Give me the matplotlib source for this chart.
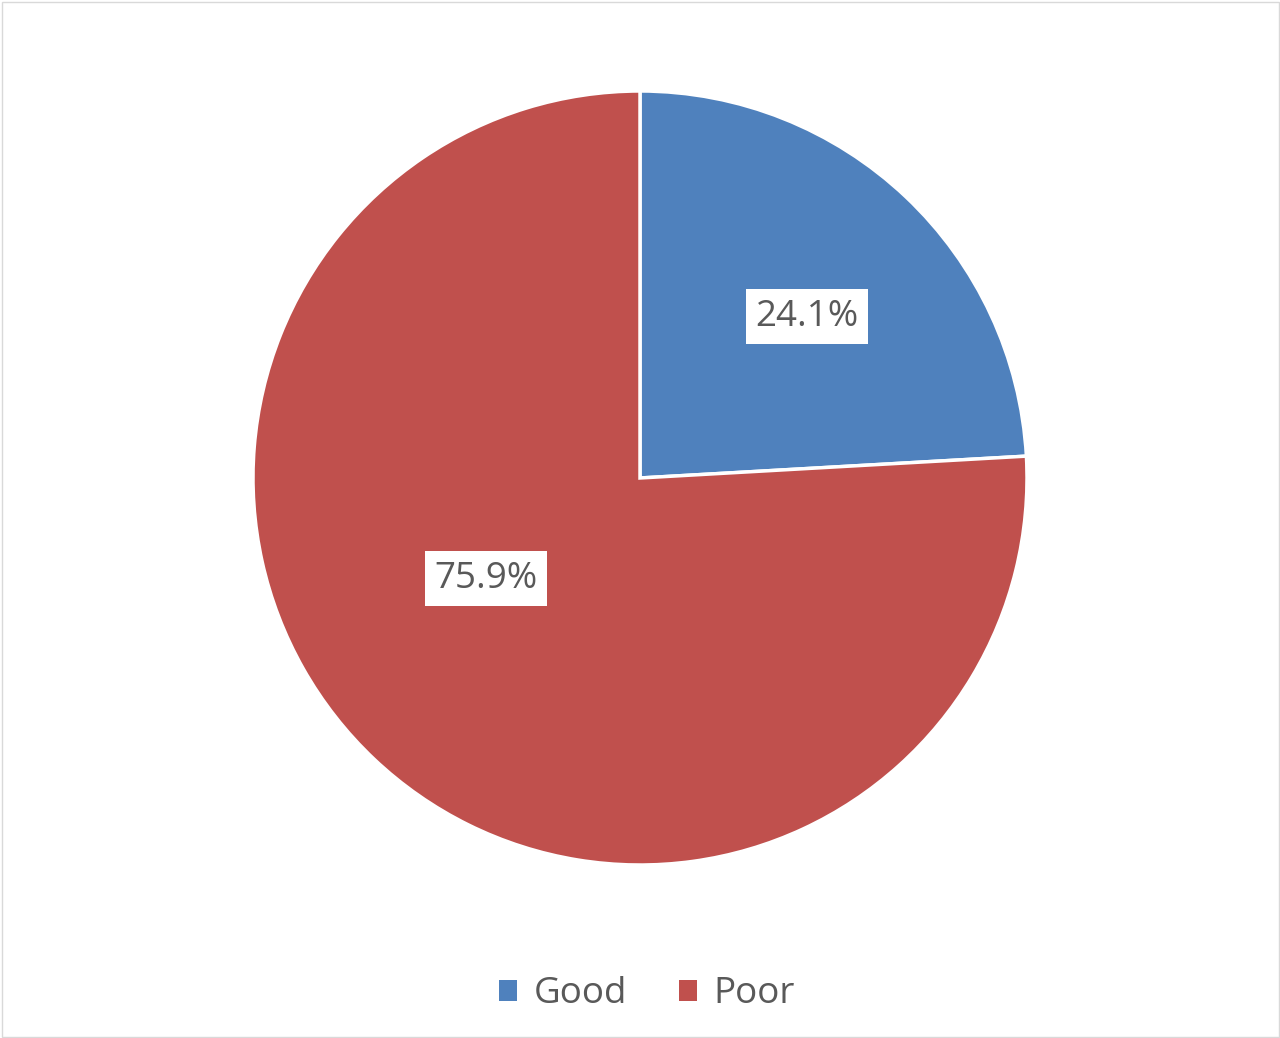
import matplotlib
matplotlib.use("Agg")
import matplotlib.pyplot as plt
from matplotlib.patches import Rectangle, Patch

categories = ["Good", "Poor"]
values = [24.1, 75.9]
colors = ["#4F81BD", "#C0504D"]

plt.rcParams['font.family'] = ['Open Sans', 'DejaVu Sans']
W, H = 1280, 1038
fig = plt.figure(figsize=(W / 100, H / 100), dpi=100)
fig.patch.set_facecolor("white")

cx, cy, r = 640, 478, 387
ax = fig.add_axes([(cx - r) / W, (H - cy - r) / H, 2 * r / W, 2 * r / H])
wedges, texts, autotexts = ax.pie(
    values, colors=colors, startangle=90, counterclock=False,
    autopct=lambda p: f"{p:.1f}%", pctdistance=0.6, radius=1,
    wedgeprops=dict(edgecolor="white", linewidth=2.5),
    textprops=dict(fontsize=26.5, color="#595959"))
ax.set_xlim(-1, 1)
ax.set_ylim(-1, 1)
ax.set_aspect("equal")
ax.axis("off")

label_pos = [(0.432, 0.417), (-0.398, -0.26)]
for t, pos in zip(autotexts, label_pos):
    t.set_position(pos)
    t.set_ha("center")
    t.set_va("center")
    t.set_bbox(dict(facecolor="white", edgecolor="none", boxstyle="square,pad=0.25"))

handles = [Patch(facecolor=c, edgecolor="none") for c in colors]
fig.legend(handles, categories, loc="center", bbox_to_anchor=(0.5055, 0.042),
           ncol=2, frameon=False, fontsize=26.5, labelcolor="#595959",
           handlelength=0.5, handleheight=0.5, handletextpad=0.45,
           columnspacing=1.4)

fig.add_artist(Rectangle((1.5 / W, 1.5 / H), 1 - 3 / W, 1 - 3 / H,
                         transform=fig.transFigure, fill=False,
                         edgecolor="#D9D9D9", linewidth=1))

fig.savefig("out.png", dpi=100)
